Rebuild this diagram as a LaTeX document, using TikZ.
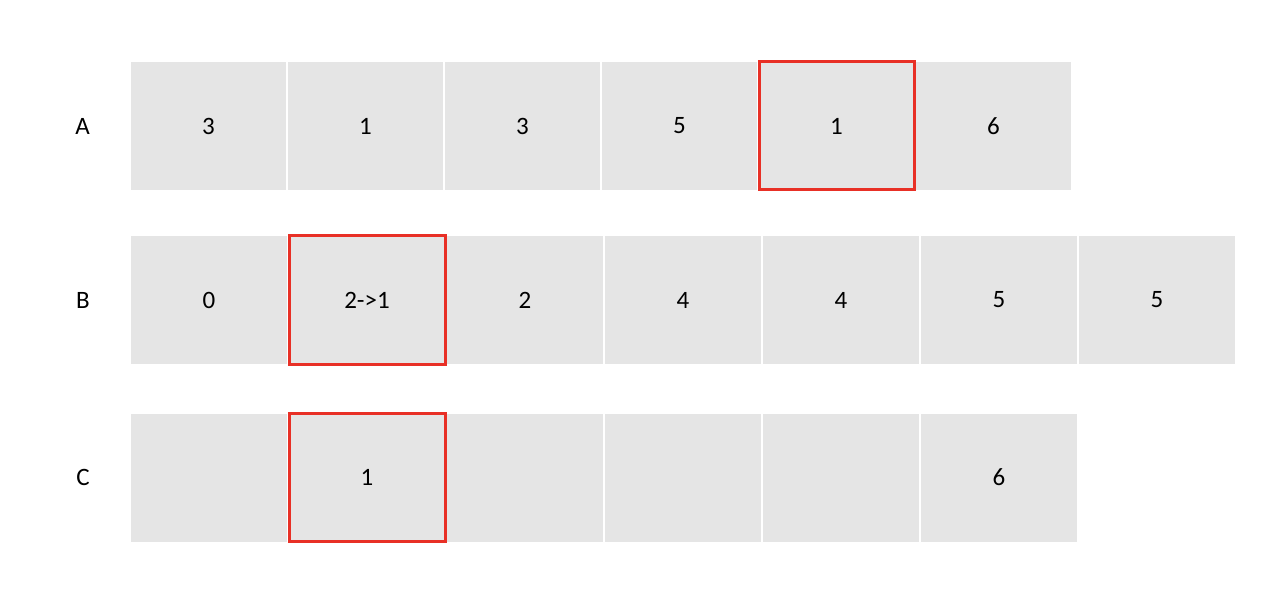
\documentclass[tikz,border=0pt]{standalone}
\usepackage{fontspec}
\setmainfont{Carlito}
\usepackage{tikz}
\usetikzlibrary{positioning,chains}

\definecolor{cellgray}{RGB}{229,229,229}
\definecolor{markred}{RGB}{232,48,38}

\begin{document}
\begin{tikzpicture}[x=1pt,y=1pt,
						cell/.style={
							rectangle,
							fill=cellgray,
							minimum height=128pt,
							minimum width=156pt,
							inner sep=0pt,
							outer sep=0pt,
							font=\fontsize{25}{30}\selectfont,
							on chain
						},
						marked/.style={
							draw=markred, line width=3pt
						},
						rowlabel/.style={
							inner sep=0pt,
							font=\fontsize{25}{30}\selectfont
						},
						node distance=2pt]

						\useasboundingbox (0,0) rectangle (1280,590);

						% Row A
						\begin{scope}[start chain=going right, cell/.append style={minimum width=155pt}]
							\node [cell] at (208.5,464) (a1) {3};
							\node [cell] (a2) {1};
							\node [cell] (a3) {3};
							\node [cell] (a4) {5};
							\node [cell, marked] (a5) {1};
							\node [cell] (a6) {6};
						\end{scope}

						% Row B
						\begin{scope}[start chain=going right]
							\node [cell] at (209,290) (b1) {0};
							\node [cell, marked] (b2) {2->1};
							\node [cell] (b3) {2};
							\node [cell] (b4) {4};
							\node [cell] (b5) {4};
							\node [cell] (b6) {5};
							\node [cell] (b7) {5};
						\end{scope}

						% Row C
						\begin{scope}[start chain=going right]
							\node [cell] at (209,112.5) (c1) {};
							\node [cell, marked] (c2) {1};
							\node [cell] (c3) {};
							\node [cell] (c4) {};
							\node [cell] (c5) {};
							\node [cell] (c6) {6};
						\end{scope}

						%% Row names
						\node [rowlabel, left=41pt of a1] (labelA) {A};
						\node [rowlabel, left=41pt of b1] (labelB) {B};
						\node [rowlabel, left=41pt of c1] (labelC) {C};
					\end{tikzpicture}
\end{document}
